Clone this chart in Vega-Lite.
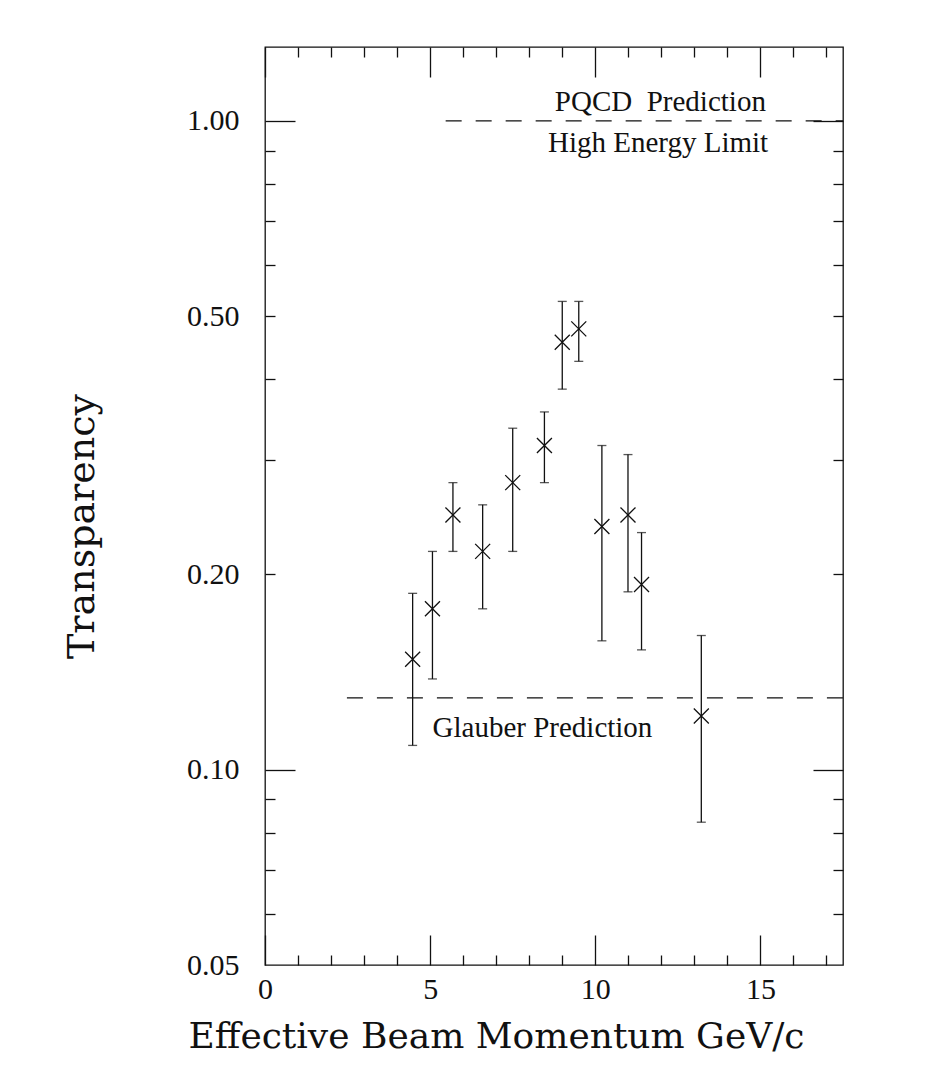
{
  "$schema": "https://vega.github.io/schema/vega-lite/v6.json",
  "autosize": "none",
  "width": 578,
  "height": 918,
  "padding": {"left": 265, "top": 47, "right": 95, "bottom": 112},
  "background": "white",
  "config": {
    "view": {"stroke": "#111", "strokeWidth": 1.3},
    "axis": {
      "grid": false,
      "domain": false,
      "labelFont": "Liberation Serif",
      "labelFontSize": 30,
      "labelColor": "#111",
      "labelFlush": false,
      "labelOverlap": false,
      "tickColor": "#111",
      "tickWidth": 1.3,
      "titleFont": "DejaVu Serif",
      "titleFontWeight": "normal",
      "titleColor": "#111"
    },
    "text": {"font": "Liberation Serif"}
  },
  "datasets": {
    "pts": [
      {"p": 4.47, "t": 0.148, "lo": 0.109, "hi": 0.187},
      {"p": 5.07, "t": 0.177, "lo": 0.138, "hi": 0.217},
      {"p": 5.69, "t": 0.247, "lo": 0.217, "hi": 0.277},
      {"p": 6.59, "t": 0.217, "lo": 0.177, "hi": 0.256},
      {"p": 7.5, "t": 0.277, "lo": 0.217, "hi": 0.336},
      {"p": 8.46, "t": 0.316, "lo": 0.277, "hi": 0.356},
      {"p": 9.0, "t": 0.456, "lo": 0.386, "hi": 0.527},
      {"p": 9.5, "t": 0.478, "lo": 0.426, "hi": 0.527},
      {"p": 10.2, "t": 0.237, "lo": 0.158, "hi": 0.316},
      {"p": 10.99, "t": 0.247, "lo": 0.188, "hi": 0.306},
      {"p": 11.4, "t": 0.193, "lo": 0.153, "hi": 0.232},
      {"p": 13.21, "t": 0.121, "lo": 0.083, "hi": 0.161}
    ],
    "lines": [
      {"name": "PQCD", "p": 5.47, "p2": 17.5, "t": 1.0},
      {"name": "Glauber", "p": 2.48, "p2": 17.5, "t": 0.129}
    ],
    "notes": [
      {"label": "PQCD\u00a0 Prediction", "p": 11.97, "t": 1.07},
      {"label": "High Energy Limit", "p": 11.9, "t": 0.923},
      {"label": "Glauber Prediction", "p": 8.4, "t": 0.1161}
    ]
  },
  "resolve": {"axis": {"x": "independent", "y": "independent"}},
  "layer": [
    {
      "data": {"name": "pts"},
      "mark": {"type": "rule", "color": "#111", "strokeWidth": 1.3},
      "encoding": {
        "x": {
          "field": "p", "type": "quantitative",
          "scale": {"domain": [0, 17.5], "nice": false, "zero": false},
          "axis": {
            "orient": "bottom", "values": [0, 5, 10, 15], "ticks": false,
            "labelPadding": 9, "format": "d",
            "title": "Effective Beam Momentum GeV/c",
            "titleFontSize": 36, "titleX": 231, "titleY": 82,
            "titleAlign": "center", "titleBaseline": "alphabetic", "titleAnchor": null
          }
        },
        "y": {
          "field": "lo", "type": "quantitative",
          "scale": {"type": "log", "domain": [0.05, 1.3], "nice": false},
          "axis": {
            "orient": "left", "values": [0.05, 0.1, 0.2, 0.5, 1.0], "ticks": false,
            "labelPadding": 26, "format": ".2f",
            "title": "Transparency", "titleFontSize": 38, "titleAngle": -90,
            "titleX": -183, "titleY": 479, "titleAlign": "center", "titleBaseline": "middle"
          }
        },
        "y2": {"field": "hi"}
      }
    },
    {
      "data": {"name": "pts"},
      "transform": [{"fold": ["lo", "hi"], "as": ["end", "v"]}],
      "mark": {"type": "tick", "orient": "horizontal", "size": 9, "thickness": 1.3, "color": "#111"},
      "encoding": {
        "x": {
          "field": "p", "type": "quantitative",
          "scale": {"domain": [0, 17.5], "nice": false, "zero": false},
          "axis": {"orient": "bottom", "values": [0, 5, 10, 15], "labels": false, "tickSize": -30, "title": null}
        },
        "y": {
          "field": "v", "type": "quantitative",
          "scale": {"type": "log", "domain": [0.05, 1.3], "nice": false},
          "axis": {"orient": "left", "values": [0.1, 1.0], "labels": false, "tickSize": -30, "title": null}
        }
      }
    },
    {
      "data": {"name": "pts"},
      "mark": {"type": "point", "shape": "M-1,-1L1,1M-1,1L1,-1", "size": 225, "filled": false, "strokeWidth": 1.3, "color": "#111", "opacity": 1},
      "encoding": {
        "x": {
          "field": "p", "type": "quantitative",
          "scale": {"domain": [0, 17.5], "nice": false, "zero": false},
          "axis": {"orient": "bottom", "values": [1, 2, 3, 4, 6, 7, 8, 9, 11, 12, 13, 14, 16, 17], "labels": false, "tickSize": -10, "title": null}
        },
        "y": {
          "field": "t", "type": "quantitative",
          "scale": {"type": "log", "domain": [0.05, 1.3], "nice": false},
          "axis": {"orient": "left", "values": [0.06, 0.07, 0.08, 0.09, 0.2, 0.3, 0.4, 0.5, 0.6, 0.7, 0.8, 0.9], "labels": false, "tickSize": -10, "title": null}
        }
      }
    },
    {
      "data": {"name": "lines"},
      "mark": {"type": "rule", "color": "#111", "strokeWidth": 1.3, "strokeDash": [16, 14]},
      "encoding": {
        "x": {
          "field": "p", "type": "quantitative",
          "scale": {"domain": [0, 17.5], "nice": false, "zero": false},
          "axis": {"orient": "top", "values": [0, 5, 10, 15], "labels": false, "tickSize": -30, "title": null}
        },
        "x2": {"field": "p2"},
        "y": {
          "field": "t", "type": "quantitative",
          "scale": {"type": "log", "domain": [0.05, 1.3], "nice": false},
          "axis": {"orient": "right", "values": [0.1, 1.0], "labels": false, "tickSize": -30, "title": null}
        }
      }
    },
    {
      "data": {"name": "notes"},
      "mark": {"type": "text", "fontSize": 29, "color": "#111", "align": "center", "baseline": "middle"},
      "encoding": {
        "x": {
          "field": "p", "type": "quantitative",
          "scale": {"domain": [0, 17.5], "nice": false, "zero": false},
          "axis": {"orient": "top", "values": [1, 2, 3, 4, 6, 7, 8, 9, 11, 12, 13, 14, 16, 17], "labels": false, "tickSize": -10, "title": null}
        },
        "y": {
          "field": "t", "type": "quantitative",
          "scale": {"type": "log", "domain": [0.05, 1.3], "nice": false},
          "axis": {"orient": "right", "values": [0.06, 0.07, 0.08, 0.09, 0.2, 0.3, 0.4, 0.5, 0.6, 0.7, 0.8, 0.9], "labels": false, "tickSize": -10, "title": null}
        },
        "text": {"field": "label"}
      }
    }
  ]
}
